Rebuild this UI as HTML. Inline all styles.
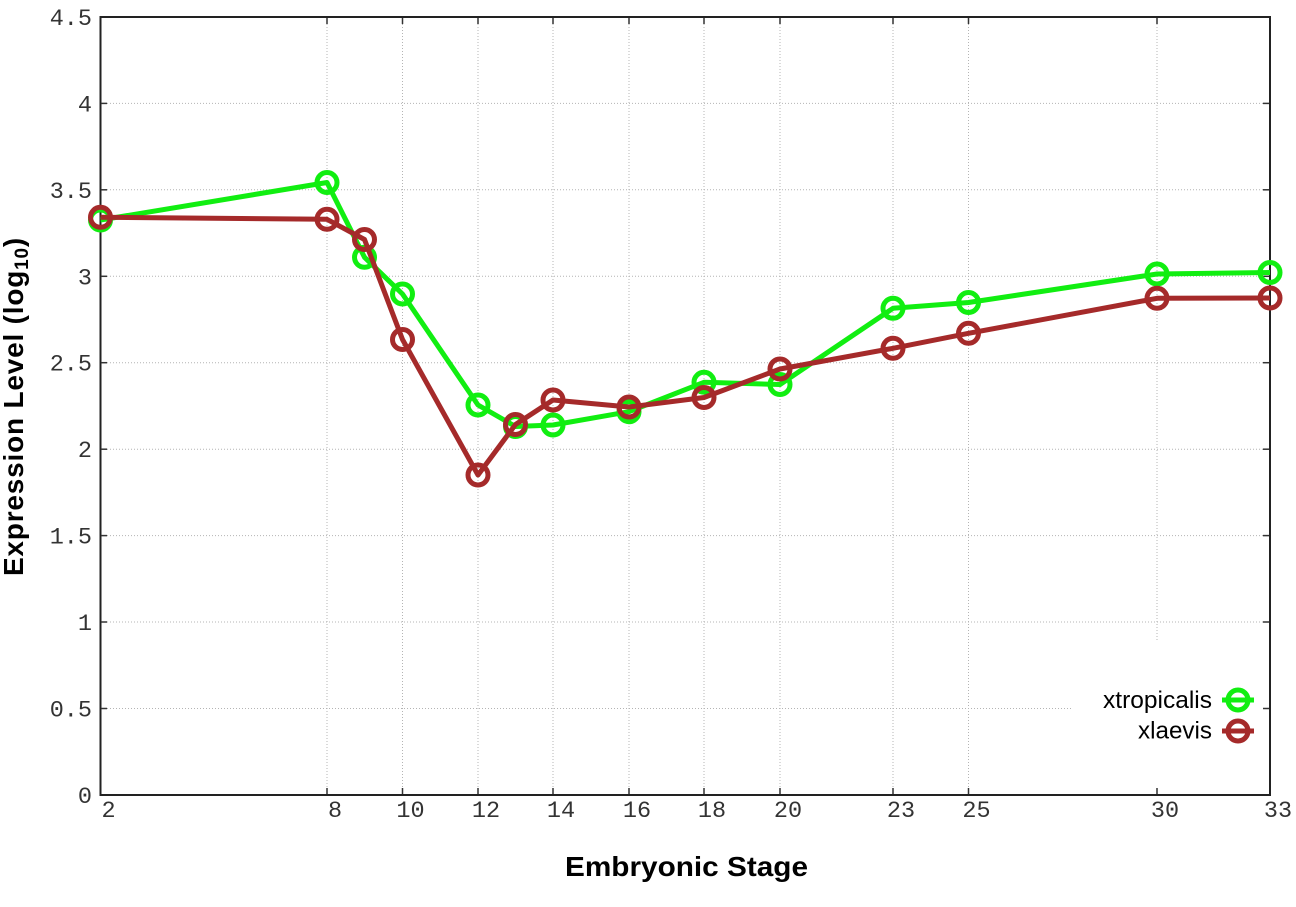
<!DOCTYPE html>
<html>
<head>
<meta charset="utf-8">
<style>
  html, body { margin: 0; padding: 0; background: #ffffff; }
  svg { display: block; }
</style>
</head>
<body>
<svg width="1296" height="907" viewBox="0 0 1296 907" xmlns="http://www.w3.org/2000/svg">
  <rect x="0" y="0" width="1296" height="907" fill="#ffffff"/>

  <!-- grid horizontal -->
  <g stroke="#b4b4b4" stroke-width="1" stroke-dasharray="1 2" fill="none">
    <line x1="107" y1="708.5" x2="1263" y2="708.5"/>
    <line x1="107" y1="622" x2="1263" y2="622"/>
    <line x1="107" y1="535.6" x2="1263" y2="535.6"/>
    <line x1="107" y1="449.2" x2="1263" y2="449.2"/>
    <line x1="107" y1="362.7" x2="1263" y2="362.7"/>
    <line x1="107" y1="276.3" x2="1263" y2="276.3"/>
    <line x1="107" y1="189.8" x2="1263" y2="189.8"/>
    <line x1="107" y1="103.4" x2="1263" y2="103.4"/>
    <!-- vertical -->
    <line x1="327" y1="24" x2="327" y2="788"/>
    <line x1="402.5" y1="24" x2="402.5" y2="788"/>
    <line x1="478" y1="24" x2="478" y2="788"/>
    <line x1="553" y1="24" x2="553" y2="788"/>
    <line x1="629" y1="24" x2="629" y2="788"/>
    <line x1="704" y1="24" x2="704" y2="788"/>
    <line x1="780" y1="24" x2="780" y2="788"/>
    <line x1="893" y1="24" x2="893" y2="788"/>
    <line x1="968.5" y1="24" x2="968.5" y2="788"/>
    <line x1="1157" y1="24" x2="1157" y2="788"/>
  </g>

  <!-- legend opaque box -->
  <rect x="1071" y="642" width="198" height="152" fill="#ffffff"/>

  <!-- border -->
  <rect x="100.5" y="17" width="1169.5" height="778" fill="none" stroke="#222" stroke-width="2"/>

  <!-- ticks -->
  <g stroke="#333" stroke-width="1.5">
    <line x1="101" y1="708.5" x2="107" y2="708.5"/><line x1="1263" y1="708.5" x2="1269" y2="708.5"/>
    <line x1="101" y1="622" x2="107" y2="622"/><line x1="1263" y1="622" x2="1269" y2="622"/>
    <line x1="101" y1="535.6" x2="107" y2="535.6"/><line x1="1263" y1="535.6" x2="1269" y2="535.6"/>
    <line x1="101" y1="449.2" x2="107" y2="449.2"/><line x1="1263" y1="449.2" x2="1269" y2="449.2"/>
    <line x1="101" y1="362.7" x2="107" y2="362.7"/><line x1="1263" y1="362.7" x2="1269" y2="362.7"/>
    <line x1="101" y1="276.3" x2="107" y2="276.3"/><line x1="1263" y1="276.3" x2="1269" y2="276.3"/>
    <line x1="101" y1="189.8" x2="107" y2="189.8"/><line x1="1263" y1="189.8" x2="1269" y2="189.8"/>
    <line x1="101" y1="103.4" x2="107" y2="103.4"/><line x1="1263" y1="103.4" x2="1269" y2="103.4"/>
    <line x1="327" y1="788" x2="327" y2="794"/><line x1="327" y1="18" x2="327" y2="24"/>
    <line x1="402.5" y1="788" x2="402.5" y2="794"/><line x1="402.5" y1="18" x2="402.5" y2="24"/>
    <line x1="478" y1="788" x2="478" y2="794"/><line x1="478" y1="18" x2="478" y2="24"/>
    <line x1="553" y1="788" x2="553" y2="794"/><line x1="553" y1="18" x2="553" y2="24"/>
    <line x1="629" y1="788" x2="629" y2="794"/><line x1="629" y1="18" x2="629" y2="24"/>
    <line x1="704" y1="788" x2="704" y2="794"/><line x1="704" y1="18" x2="704" y2="24"/>
    <line x1="780" y1="788" x2="780" y2="794"/><line x1="780" y1="18" x2="780" y2="24"/>
    <line x1="893" y1="788" x2="893" y2="794"/><line x1="893" y1="18" x2="893" y2="24"/>
    <line x1="968.5" y1="788" x2="968.5" y2="794"/><line x1="968.5" y1="18" x2="968.5" y2="24"/>
    <line x1="1157" y1="788" x2="1157" y2="794"/><line x1="1157" y1="18" x2="1157" y2="24"/>
  </g>

  <!-- y tick labels -->
  <g font-family="'Liberation Mono', monospace" font-size="23.5" fill="#333" text-anchor="end">
    <text x="92" y="803">0</text>
    <text x="92" y="716.5">0.5</text>
    <text x="92" y="630">1</text>
    <text x="92" y="543.6">1.5</text>
    <text x="92" y="457.2">2</text>
    <text x="92" y="370.7">2.5</text>
    <text x="92" y="284.3">3</text>
    <text x="92" y="197.8">3.5</text>
    <text x="92" y="111.4">4</text>
    <text x="92" y="25">4.5</text>
  </g>

  <!-- x tick labels -->
  <g font-family="'Liberation Mono', monospace" font-size="23.5" fill="#333" text-anchor="middle">
    <text x="108.5" y="817">2</text>
    <text x="335" y="817">8</text>
    <text x="410.5" y="817">10</text>
    <text x="486" y="817">12</text>
    <text x="561" y="817">14</text>
    <text x="637" y="817">16</text>
    <text x="712" y="817">18</text>
    <text x="788" y="817">20</text>
    <text x="901" y="817">23</text>
    <text x="976.5" y="817">25</text>
    <text x="1165" y="817">30</text>
    <text x="1278" y="817">33</text>
  </g>

  <!-- axis titles -->
  <text x="565" y="876" font-family="'Liberation Sans', Arial, sans-serif" font-weight="bold" font-size="28" fill="#000" textLength="243" lengthAdjust="spacingAndGlyphs">Embryonic Stage</text>
  <text transform="translate(23,406.5) rotate(-90)" text-anchor="middle" font-family="'Liberation Sans', Arial, sans-serif" font-weight="bold" font-size="28" fill="#000" letter-spacing="0.8">Expression Level (log<tspan font-size="19" dy="5">10</tspan><tspan dy="-5">)</tspan></text>

  <!-- xtropicalis (green) -->
  <g fill="none" stroke="#11ee11" stroke-width="5" stroke-linejoin="round">
    <polyline points="100.5,220 327,182.5 364.5,257.3 402.5,294 478,405 515.5,426.5 553,425 629,411.7 704,382.3 780,384.5 893,308.3 968.5,302.5 1157,274 1270,272.5"/>
    <circle cx="100.5" cy="220" r="10"/>
    <circle cx="327" cy="182.5" r="10"/>
    <circle cx="364.5" cy="257.3" r="10"/>
    <circle cx="402.5" cy="294" r="10"/>
    <circle cx="478" cy="405" r="10"/>
    <circle cx="515.5" cy="426.5" r="10"/>
    <circle cx="553" cy="425" r="10"/>
    <circle cx="629" cy="411.7" r="10"/>
    <circle cx="704" cy="382.3" r="10"/>
    <circle cx="780" cy="384.5" r="10"/>
    <circle cx="893" cy="308.3" r="10"/>
    <circle cx="968.5" cy="302.5" r="10"/>
    <circle cx="1157" cy="274" r="10"/>
    <circle cx="1270" cy="272.5" r="10"/>
  </g>

  <!-- xlaevis (brown) -->
  <g fill="none" stroke="#a52a2a" stroke-width="5" stroke-linejoin="round">
    <polyline points="100.5,217.3 327,219.3 364.5,239.5 402.5,339.5 478,475 515.5,424.5 553,400 629,407 704,397.5 780,369 893,348.3 968.5,333.3 1157,298.3 1270,298"/>
    <circle cx="100.5" cy="217.3" r="10"/>
    <circle cx="327" cy="219.3" r="10"/>
    <circle cx="364.5" cy="239.5" r="10"/>
    <circle cx="402.5" cy="339.5" r="10"/>
    <circle cx="478" cy="475" r="10"/>
    <circle cx="515.5" cy="424.5" r="10"/>
    <circle cx="553" cy="400" r="10"/>
    <circle cx="629" cy="407" r="10"/>
    <circle cx="704" cy="397.5" r="10"/>
    <circle cx="780" cy="369" r="10"/>
    <circle cx="893" cy="348.3" r="10"/>
    <circle cx="968.5" cy="333.3" r="10"/>
    <circle cx="1157" cy="298.3" r="10"/>
    <circle cx="1270" cy="298" r="10"/>
  </g>

  <!-- legend -->
  <g font-family="'Liberation Sans', Arial, sans-serif" font-size="24" fill="#000" text-anchor="end">
    <text x="1212" y="708" textLength="109" lengthAdjust="spacingAndGlyphs">xtropicalis</text>
    <text x="1212" y="738.5" textLength="74" lengthAdjust="spacingAndGlyphs">xlaevis</text>
  </g>
  <g fill="none" stroke-width="5">
    <line x1="1222" y1="700" x2="1254" y2="700" stroke="#11ee11"/>
    <circle cx="1238" cy="700" r="10" stroke="#11ee11"/>
    <line x1="1222" y1="731" x2="1254" y2="731" stroke="#a52a2a"/>
    <circle cx="1238" cy="731" r="10" stroke="#a52a2a"/>
  </g>
</svg>
</body>
</html>
